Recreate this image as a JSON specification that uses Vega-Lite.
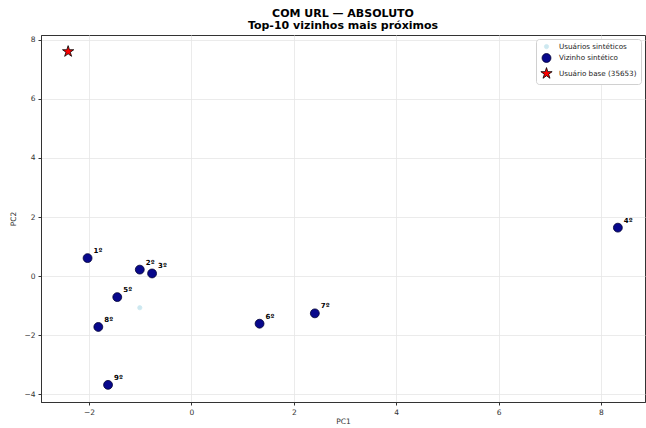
{
  "$schema": "https://vega.github.io/schema/vega-lite/v6.json",
  "width": 604,
  "height": 367,
  "autosize": "none",
  "padding": {"left": 41, "top": 35, "right": 1, "bottom": 26},
  "background": "white",
  "config": {
    "font": "DejaVu Sans",
    "view": {"stroke": "#333333", "strokeWidth": 1},
    "axis": {
      "labelFont": "DejaVu Sans",
      "titleFont": "DejaVu Sans",
      "labelFontSize": 7.5,
      "titleFontSize": 7.5,
      "titleFontWeight": "normal",
      "labelColor": "#333333",
      "titleColor": "#333333",
      "domainColor": "#333333",
      "tickColor": "#333333",
      "tickSize": 3,
      "gridColor": "#e6e6e6",
      "gridWidth": 0.8,
      "labelPadding": 3
    }
  },
  "title": {
    "text": ["COM URL — ABSOLUTO", "Top-10 vizinhos mais próximos"],
    "fontSize": 11,
    "fontWeight": "bold",
    "font": "DejaVu Sans",
    "color": "black",
    "anchor": "middle",
    "lineHeight": 12.5,
    "offset": 4
  },
  "data": {
    "values": [
      {"pc1": -1.01, "pc2": -1.07, "tipo": "Usuários sintéticos", "rotulo": ""},
      {"pc1": -2.03, "pc2": 0.61, "tipo": "Vizinho sintético", "rotulo": "1º"},
      {"pc1": -1.01, "pc2": 0.22, "tipo": "Vizinho sintético", "rotulo": "2º"},
      {"pc1": -0.77, "pc2": 0.09, "tipo": "Vizinho sintético", "rotulo": "3º"},
      {"pc1": 8.33, "pc2": 1.64, "tipo": "Vizinho sintético", "rotulo": "4º"},
      {"pc1": -1.45, "pc2": -0.71, "tipo": "Vizinho sintético", "rotulo": "5º"},
      {"pc1": 1.33, "pc2": -1.61, "tipo": "Vizinho sintético", "rotulo": "6º"},
      {"pc1": 2.41, "pc2": -1.26, "tipo": "Vizinho sintético", "rotulo": "7º"},
      {"pc1": -1.82, "pc2": -1.72, "tipo": "Vizinho sintético", "rotulo": "8º"},
      {"pc1": -1.63, "pc2": -3.68, "tipo": "Vizinho sintético", "rotulo": "9º"},
      {"pc1": -2.41, "pc2": 7.6, "tipo": "Usuário base (35653)", "rotulo": ""}
    ]
  },
  "layer": [
    {
      "mark": {"type": "point", "filled": true, "opacity": 1, "strokeWidth": 0.8},
      "encoding": {
        "x": {
          "field": "pc1",
          "type": "quantitative",
          "scale": {"domain": [-2.94, 8.86], "nice": false, "zero": false},
          "axis": {"title": "PC1", "values": [-2, 0, 2, 4, 6, 8], "titlePadding": 2}
        },
        "y": {
          "field": "pc2",
          "type": "quantitative",
          "scale": {"domain": [-4.26, 8.16], "nice": false, "zero": false},
          "axis": {"title": "PC2", "values": [-4, -2, 0, 2, 4, 6, 8], "titlePadding": 6}
        },
        "color": {
          "field": "tipo",
          "type": "nominal",
          "sort": null,
          "scale": {
            "domain": ["Usuários sintéticos", "Vizinho sintético", "Usuário base (35653)"],
            "range": ["#cde8f0", "#08088c", "#ff0000"]
          },
          "legend": {
            "title": null,
            "orient": "top-right",
            "offset": 4,
            "labelFontSize": 7.2,
            "labelFont": "DejaVu Sans",
            "labelColor": "#222222",
            "labelOffset": 6,
            "fillColor": "white",
            "strokeColor": "#d0d0d0",
            "cornerRadius": 3,
            "padding": 4,
            "rowPadding": 0,
            "symbolStrokeWidth": 0.8
          }
        },
        "shape": {
          "field": "tipo",
          "type": "nominal",
          "sort": null,
          "scale": {
            "domain": ["Usuários sintéticos", "Vizinho sintético", "Usuário base (35653)"],
            "range": ["circle", "circle", "M0,-1L0.2245,-0.309L0.951,-0.309L0.3633,0.118L0.5878,0.809L0,0.382L-0.5878,0.809L-0.3633,0.118L-0.951,-0.309L-0.2245,-0.309Z"]
          }
        },
        "size": {
          "field": "tipo",
          "type": "nominal",
          "sort": null,
          "scale": {
            "domain": ["Usuários sintéticos", "Vizinho sintético", "Usuário base (35653)"],
            "range": [18, 140, 160]
          }
        },
        "stroke": {
          "field": "tipo",
          "type": "nominal",
          "sort": null,
          "scale": {
            "domain": ["Usuários sintéticos", "Vizinho sintético", "Usuário base (35653)"],
            "range": ["#cde8f0", "#000033", "#000000"]
          }
        }
      }
    },
    {
      "mark": {"type": "text", "dx": 6, "dy": -7, "align": "left", "baseline": "middle", "fontSize": 7, "fontWeight": "bold", "font": "DejaVu Sans", "color": "black"},
      "encoding": {
        "x": {"field": "pc1", "type": "quantitative"},
        "y": {"field": "pc2", "type": "quantitative"},
        "text": {"field": "rotulo", "type": "nominal"}
      }
    }
  ]
}
